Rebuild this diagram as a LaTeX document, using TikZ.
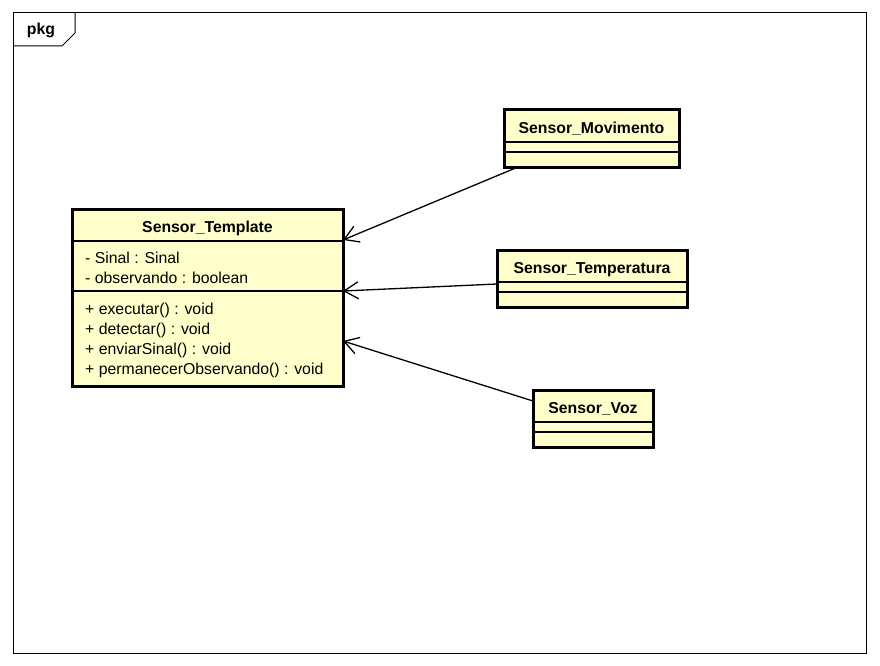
\documentclass[tikz,border=0pt]{standalone}
\usepackage{fontspec}
\setmainfont{Liberation Sans}
\usepackage{xcolor}
\definecolor{cFill}{HTML}{FFFFCC}
\definecolor{cLine}{HTML}{000000}
\usepackage{tikz}
\usetikzlibrary{positioning,arrows.meta,calc}
\tikzset{
  class-box/.style={draw=cLine,line width=3pt,fill=cFill,anchor=north west,
    inner sep=0pt,outer sep=0pt},
  class-title/.style={font=\fontsize{15.8}{19}\selectfont\bfseries,anchor=base,inner sep=0pt},
  class-member/.style={font=\fontsize{15.8}{19}\selectfont,anchor=base west,inner sep=0pt},
  class-sep/.style={draw=cLine,line width=1.2pt},
  frame/.style={draw=cLine,line width=1pt},
  arrow-dep/.style={-{Straight Barb[length=14pt,width=17pt]},line width=1.3pt,draw=cLine},
}

\begin{document}
\begin{tikzpicture}[x=1pt,y=-1pt]
  \useasboundingbox (0,0) rectangle (880,666);
  % package frame
  \draw[frame] (13,13) rectangle (866,653);
  \draw[frame] (13,46) -- (62,46) -- (75,33) -- (75,13);
  \node[class-title] (pkg) at (41,35) {pkg};

  % abstract template
  \node[class-box,minimum width=271pt,minimum height=177pt] (tpl) at (72,209) {};
  \node[class-title] (tpl-name) at ($(tpl.north)+(0,23)$) {Sensor\_Template};
  \draw[class-sep] ($(tpl.north west)+(0,32)$) -- ($(tpl.north east)+(0,32)$);
  \draw[class-sep] ($(tpl.north west)+(0,82)$) -- ($(tpl.north east)+(0,82)$);
  \foreach \dy/\txt in {54/- Sinal : Sinal,74/- observando : boolean,
      105/+ executar() : void,125/+ detectar() : void,
      145/+ enviarSinal() : void,165/+ permanecerObservando() : void}
    \node[class-member] at ($(tpl.north west)+(13,\dy)$) {\txt};

  % concrete sensors
  \node[class-box,minimum width=175pt,minimum height=57pt] (mov) at (504,110) {};
  \node[class-box,minimum width=190pt,minimum height=57pt] (temp) at (497,250) {};
  \node[class-box,minimum width=120pt,minimum height=57pt] (voz) at (533,390) {};
  \node[class-title] (mov-name) at ($(mov.north)+(0,23)$) {Sensor\_Movimento};
  \node[class-title] (temp-name) at ($(temp.north)+(0,23)$) {Sensor\_Temperatura};
  \node[class-title] (voz-name) at ($(voz.north)+(0,23)$) {Sensor\_Voz};
  \foreach \n in {mov,temp,voz}{
    \draw[class-sep] ($(\n.north west)+(0,32)$) -- ($(\n.north east)+(0,32)$);
    \draw[class-sep] ($(\n.north west)+(0,42)$) -- ($(\n.north east)+(0,42)$);
  }

  \draw[arrow-dep] ($(mov.south west)+(14,0)$) -- ($(tpl.north east)+(0,31)$);
  \draw[arrow-dep] ($(temp.north west)+(0,34)$) -- ($(tpl.north east)+(0,82)$);
  \draw[arrow-dep] ($(voz.north west)+(0,11)$) -- ($(tpl.north east)+(0,132)$);
\end{tikzpicture}
\end{document}
